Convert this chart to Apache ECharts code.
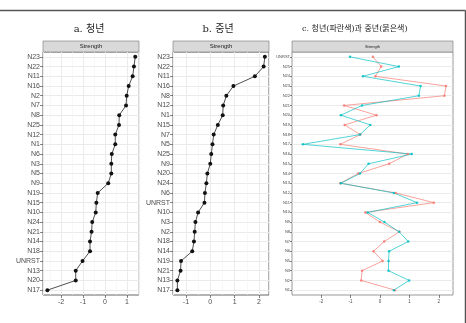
<!DOCTYPE html>
<html>
<head>
<meta charset="utf-8">
<script src="https://cdn.jsdelivr.net/npm/echarts@6/dist/echarts.min.js"></script>
<style>
html, body { margin: 0; padding: 0; background: #fff; }
#chart { width: 466px; height: 323px; }
</style>
</head>
<body>
<div id="chart"></div>
<script>
// 노드 순서 (c 패널, 위에서 아래로)
var nodes = ['UNRST','N25','N24','N23','N22','N21','N20','N19','N18','N17','N16','N15','N14','N13','N12','N11','N10','N9','N8','N7','N6','N5','N3','N2','N1'];
// 청년 strength
var youth = [-1.02, 0.64, -0.58, 1.38, 1.32, -0.61, -1.33, -0.33, -0.68, -2.62, 1.08, -0.39, -0.68, -1.33, 0.47, 1.26, -0.42, 0.15, 0.65, 0.96, 0.31, 0.29, 0.29, 0.99, 0.47];
// 중년 strength
var middle = [-0.24, 0.04, -0.16, 2.24, 2.19, -1.22, -0.12, -1.2, -0.67, -1.35, 0.95, 0.31, -0.74, -1.35, 0.53, 1.83, -0.5, 0.0, 0.66, 0.14, -0.22, 0.09, -0.61, -0.64, 0.51];
// a, b 패널 정렬 순서 (위에서 아래로)
var orderA = ['N23','N22','N11','N16','N2','N7','N8','N25','N12','N1','N6','N3','N5','N9','N19','N15','N10','N24','N21','N14','N18','UNRST','N13','N20','N17'];
var orderB = ['N23','N22','N11','N16','N8','N12','N1','N15','N7','N5','N25','N9','N20','N24','N6','UNRST','N10','N3','N2','N18','N14','N19','N21','N13','N17'];

function pick(arr, order) {
  return order.map(function (n) { return [arr[nodes.indexOf(n)], n]; });
}

var titleFont = 'DejaVu Serif, "Noto Sans CJK KR"';

function xAx(idx, min, max, fs) {
  return {
    type: 'value', gridIndex: idx, min: min, max: max,
    axisLine: { show: false, onZero: false },
    axisTick: { show: true, length: 3, lineStyle: { color: '#333', width: 0.6 } },
    axisLabel: { fontSize: fs, color: '#4d4d4d', margin: 4, showMinLabel: false, showMaxLabel: false },
    splitLine: { show: idx < 2, lineStyle: { color: '#ebebeb', width: 1 } },
    minorTick: { show: false, splitNumber: 2 },
    minorSplitLine: { show: idx < 2, lineStyle: { color: '#f4f4f4', width: 0.6 } }
  };
}

function yAx(idx, data, fs, tl) {
  return {
    type: 'category', gridIndex: idx, data: data, inverse: true,
    axisLine: { show: false, onZero: false },
    axisTick: { show: true, alignWithLabel: true, length: tl, lineStyle: { color: '#333', width: 0.6 } },
    axisLabel: { fontSize: fs, color: '#4d4d4d', margin: tl, interval: 0 },
    splitLine: { show: true, alignWithLabel: true, lineStyle: { color: '#ebebeb', width: 1 } }
  };
}

function strip(x, w, fs) {
  return [
    { type: 'rect', shape: { x: x, y: 41, width: w, height: 11 },
      style: { fill: '#d9d9d9', stroke: '#777', lineWidth: 0.6 } },
    { type: 'text', x: x + w / 2, y: 46.5,
      style: { text: 'Strength', fontSize: fs, fill: '#1a1a1a', align: 'center', verticalAlign: 'middle' } }
  ];
}

var chart = echarts.init(document.getElementById('chart'));
chart.setOption({
  animation: false,
  backgroundColor: '#fff',
  grid: [
    { left: 43, top: 52, width: 96, height: 243, show: true, borderColor: '#666', borderWidth: 1 },
    { left: 173, top: 52, width: 96, height: 243, show: true, borderColor: '#666', borderWidth: 1 },
    { left: 292, top: 52, width: 161, height: 243, show: true, borderColor: '#999', borderWidth: 1 }
  ],
  xAxis: [
    xAx(0, -2.82, 1.55, 7),
    xAx(1, -1.53, 2.41, 7),
    xAx(2, -2.99, 2.48, 4.5)
  ],
  yAxis: [
    yAx(0, orderA, 7, 3),
    yAx(1, orderB, 7, 3),
    yAx(2, nodes, 4, 2)
  ],
  series: [
    { type: 'line', xAxisIndex: 0, yAxisIndex: 0, data: pick(youth, orderA),
      symbol: 'circle', symbolSize: 4, itemStyle: { color: '#111' }, lineStyle: { color: '#222', width: 0.8 } },
    { type: 'line', xAxisIndex: 1, yAxisIndex: 1, data: pick(middle, orderB),
      symbol: 'circle', symbolSize: 4, itemStyle: { color: '#111' }, lineStyle: { color: '#222', width: 0.8 } },
    { type: 'line', xAxisIndex: 2, yAxisIndex: 2, data: pick(middle, nodes),
      symbol: 'circle', symbolSize: 2.5, itemStyle: { color: '#F8766D', opacity: 0.85 }, lineStyle: { color: '#F8766D', width: 0.8, opacity: 0.85 } },
    { type: 'line', xAxisIndex: 2, yAxisIndex: 2, data: pick(youth, nodes),
      symbol: 'circle', symbolSize: 2.5, itemStyle: { color: '#00BFC4', opacity: 0.85 }, lineStyle: { color: '#00BFC4', width: 0.8, opacity: 0.85 } }
  ],
  graphic: [].concat(
    strip(43, 96, 6),
    strip(173, 96, 6),
    strip(292, 161, 4),
    [
      { type: 'text', x: 89, y: 29, style: { text: 'a. 청년', font: '10px ' + titleFont, fill: '#222', align: 'center', verticalAlign: 'middle' } },
      { type: 'text', x: 218, y: 29, style: { text: 'b. 중년', font: '10px ' + titleFont, fill: '#222', align: 'center', verticalAlign: 'middle' } },
      { type: 'text', x: 302, y: 29, style: { text: 'c. 청년(파란색)과 중년(붉은색)', font: '8px ' + titleFont, fill: '#222', align: 'left', verticalAlign: 'middle' } },
      { type: 'line', shape: { x1: 0, y1: 10.5, x2: 465.5, y2: 10.5 }, style: { stroke: '#555', lineWidth: 1.5 } },
      { type: 'line', shape: { x1: 465.5, y1: 10.5, x2: 465.5, y2: 323 }, style: { stroke: '#555', lineWidth: 1.5 } }
    ]
  )
});
</script>
</body>
</html>
